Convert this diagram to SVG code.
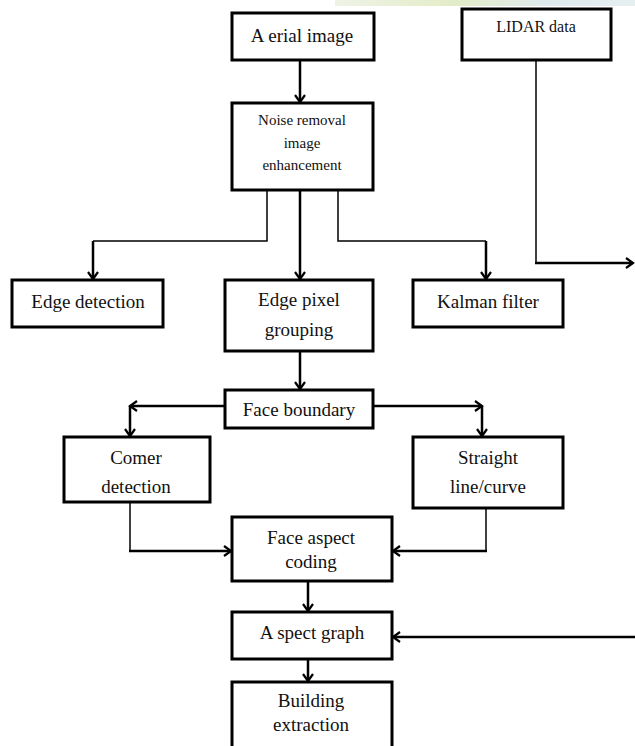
<svg xmlns="http://www.w3.org/2000/svg" width="635" height="746" viewBox="0 0 635 746">
<style>
.box{fill:#fff;stroke:#000;stroke-width:3}
.t{font-family:"Liberation Serif","Times New Roman",serif;font-size:19px;fill:#111;text-anchor:middle}
.s{font-size:15px}
.l{font-size:16px}
.thin{fill:none;stroke:#000;stroke-width:1.5}
.thick{fill:none;stroke:#000;stroke-width:2.5}
.arr{marker-end:url(#ah)}
</style>
<defs>
<marker id="ah" markerUnits="userSpaceOnUse" markerWidth="14" markerHeight="14" refX="8" refY="6" orient="auto">
<path d="M1,1 L8,6 L1,11" fill="none" stroke="#000" stroke-width="2.2"/>
</marker>
<linearGradient id="wm" x1="0" x2="1" y1="0" y2="0">
<stop offset="0" stop-color="#eef3e6"/>
<stop offset="0.4" stop-color="#e3ecc8"/>
<stop offset="0.7" stop-color="#dfeaee"/>
<stop offset="1" stop-color="#e6eff0"/>
</linearGradient>
</defs>
<rect x="0" y="0" width="635" height="746" fill="#fff"/>
<rect x="335" y="0" width="300" height="6" fill="url(#wm)"/>
<g id="connectors">
<line class="thick arr" x1="300" y1="60" x2="300" y2="102"/>
<polyline class="thin" points="267,190 267,241 93,241"/>
<line class="thick arr" x1="93" y1="241" x2="93" y2="279"/>
<line class="thick arr" x1="300" y1="190" x2="300" y2="279"/>
<polyline class="thin" points="338,190 338,241 486,241"/>
<line class="thick arr" x1="486" y1="241" x2="486" y2="279"/>
<line class="thin" x1="536" y1="60" x2="536" y2="263"/>
<line class="thick arr" x1="535" y1="263" x2="633" y2="263"/>
<line class="thick arr" x1="300" y1="351" x2="300" y2="389"/>
<line class="thick arr" x1="225" y1="406" x2="130" y2="406"/>
<line class="thick arr" x1="130" y1="406" x2="130" y2="436"/>
<line class="thick arr" x1="373" y1="406" x2="482" y2="406"/>
<line class="thick arr" x1="482" y1="406" x2="482" y2="436"/>
<line class="thin" x1="130" y1="502" x2="130" y2="551"/>
<line class="thick arr" x1="129" y1="551" x2="231" y2="551"/>
<line class="thin" x1="486" y1="508" x2="486" y2="551"/>
<line class="thick arr" x1="487" y1="551" x2="393" y2="551"/>
<line class="thick arr" x1="308" y1="581" x2="308" y2="611"/>
<line class="thick arr" x1="635" y1="637" x2="393" y2="637"/>
<line class="thick arr" x1="308" y1="659" x2="308" y2="681"/>
</g>
<g id="aerial"><rect class="box" x="232" y="13" width="142" height="47"/><text class="t" x="302" y="42">A erial image</text></g>
<g id="lidar"><rect class="box" x="462" y="9" width="149" height="51"/><text class="t l" x="536" y="32">LIDAR data</text></g>
<g id="noise"><rect class="box" x="232" y="103" width="141" height="87"/>
<text class="t s" x="302" y="125">Noise removal</text><text class="t s" x="302" y="148">image</text><text class="t s" x="302" y="170">enhancement</text></g>
<g id="edgedet"><rect class="box" x="12" y="280" width="151" height="47"/><text class="t" x="88" y="308">Edge detection</text></g>
<g id="edgepix"><rect class="box" x="225" y="280" width="148" height="71"/><text class="t" x="299" y="306">Edge pixel</text><text class="t" x="299" y="336">grouping</text></g>
<g id="kalman"><rect class="box" x="413" y="280" width="150" height="47"/><text class="t" x="488" y="308">Kalman filter</text></g>
<g id="faceb"><rect class="box" x="225" y="390" width="148" height="38"/><text class="t" x="299" y="416">Face boundary</text></g>
<g id="corner"><rect class="box" x="64" y="437" width="146" height="65"/><text class="t" x="136" y="464">Comer</text><text class="t" x="136" y="493">detection</text></g>
<g id="straight"><rect class="box" x="413" y="437" width="150" height="71"/><text class="t" x="488" y="464">Straight</text><text class="t" x="488" y="493">line/curve</text></g>
<g id="faceaspect"><rect class="box" x="232" y="517" width="160" height="64"/><text class="t" x="311" y="544">Face aspect</text><text class="t" x="311" y="568">coding</text></g>
<g id="aspectgraph"><rect class="box" x="232" y="612" width="160" height="47"/><text class="t" x="312" y="639">A spect graph</text></g>
<g id="building"><rect class="box" x="232" y="682" width="160" height="90"/><text class="t" x="311" y="707">Building</text><text class="t" x="311" y="731">extraction</text></g>
</svg>
